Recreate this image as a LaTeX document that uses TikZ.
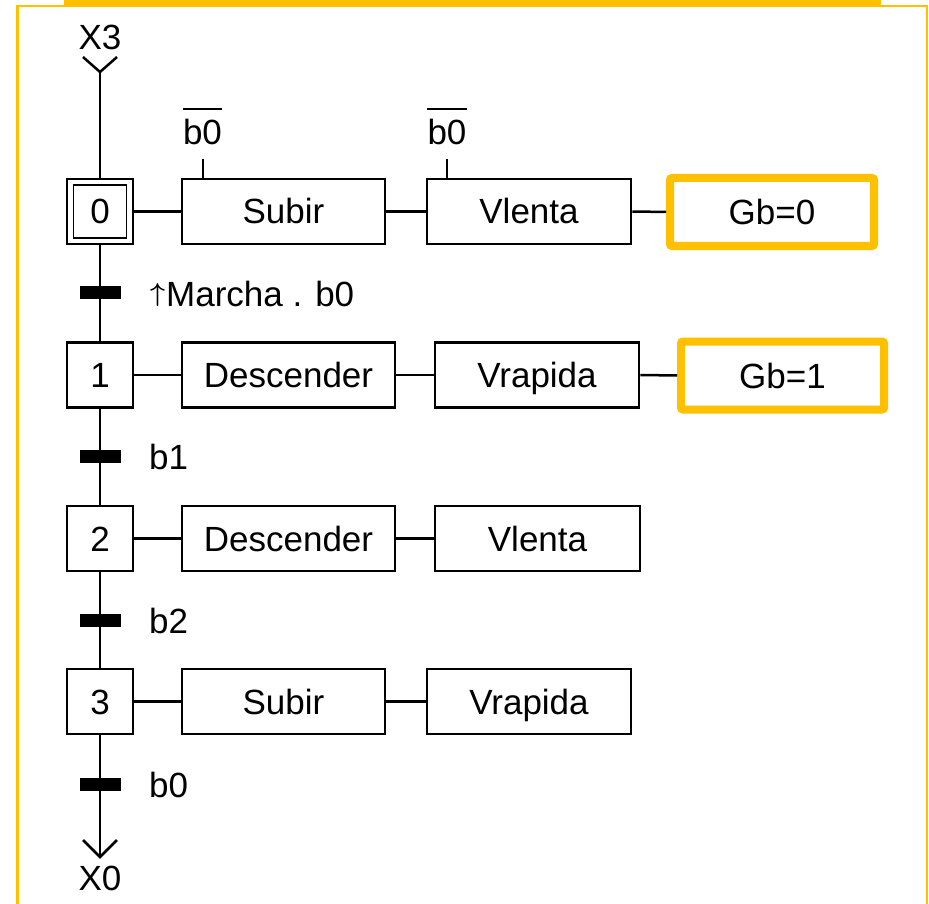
\documentclass[tikz,border=0pt]{standalone}
\usepackage{graphicx}
\usepackage{fontspec}
\setmainfont{Liberation Sans}
\definecolor{gold}{HTML}{FFC000}
% thin rising-edge arrow in front of a condition
\newcommand{\risingedge}{{\normalsize\boldmath\raisebox{5pt}{\scalebox{2.6}{$\uparrow$}}}\hspace{1pt}}
\begin{document}
\begin{tikzpicture}[x=1pt,y=-1pt,
  every node/.style={font=\fontsize{35}{42}\selectfont, inner sep=0pt, text height=25pt, text depth=0pt},
  wire/.style={line width=2.5pt, black},
  stepbox/.style={draw, line width=2.5pt, minimum width=66pt, minimum height=65pt},
  actbox/.style={draw, line width=2.5pt, minimum height=65pt},
  gbbox/.style={draw=gold, line width=8pt, rounded corners=2pt, minimum height=68pt},
  trbar/.style={fill=black, minimum width=41pt, minimum height=13pt, text height=0pt},
  cond/.style={anchor=west}]
\useasboundingbox (0,0) rectangle (929,904);

% frame
\fill[gold] (64,0) rectangle (881,7);
\draw[gold, line width=2.5pt] (64,6) -- (17.3,6) -- (17.3,904);
\draw[gold, line width=2.5pt] (881,6) -- (926.8,6) -- (926.8,904);

% steps
\node[stepbox] (s0) at (100,211.5) {};
\node[draw, line width=1.5pt, minimum size=53pt] (s0i) at (s0) {0};
\node[stepbox] (s1) at (100,375) {1};
\node[stepbox] (s2) at (100,538.5) {2};
\node[stepbox] (s3) at (100,701.5) {3};

% entry and exit
\node (x3) at (100,37) {X3};
\coordinate (x3tip) at (100,72);
\draw[wire] (x3tip) ++(-17,-15) -- (x3tip) -- ++(17,-15);
\draw[wire] (x3tip) -- (s0.north);

\node (x0) at (100,878) {X0};
\coordinate (x0tip) at (100,857);
\draw[wire] (s3.south) -- (x0tip);
\draw[wire] (x0tip) ++(-17,-17) -- (x0tip) -- ++(17,-17);

% vertical links
\draw[wire] (s0.south) -- (s1.north);
\draw[wire] (s1.south) -- (s2.north);
\draw[wire] (s2.south) -- (s3.north);

% transitions
\node[trbar] (t1) at (100.5,292.5) {};
\node[trbar] (t2) at (100.5,456) {};
\node[trbar] (t3) at (100.5,620) {};
\node[trbar] (t4) at (100.5,784) {};
\node[cond] (c1) at (150,294) {\risingedge Marcha . b0};
\node[cond] (c2) at (149,457) {b1};
\node[cond] (c3) at (149,621) {b2};
\node[cond] (c4) at (149,785) {b0};

% actions, step 0
\node[actbox, minimum width=203pt] (a01) at (283.5,211.5) {Subir};
\node[actbox, minimum width=204pt] (a02) at (529,211.5) {Vlenta};
\node[gbbox, minimum width=204pt] (a03) at (772,212) {Gb=0};
\draw[wire] (s0) -- (a01);
\draw[wire] (a01) -- (a02);
\draw[wire] (a02) -- (a03);
\node (n1) at (202.5,132) {b0};
\draw[line width=2pt] ([yshift=10pt]n1.north west) -- ([yshift=10pt]n1.north east);
\coordinate (k1) at (203,159);
\draw[wire] (k1) -- (k1 |- a01.north);
\node (n2) at (447,132) {b0};
\draw[line width=2pt] ([yshift=10pt]n2.north west) -- ([yshift=10pt]n2.north east);
\coordinate (k2) at (447,159);
\draw[wire] (k2) -- (k2 |- a02.north);

% actions, step 1
\node[actbox, minimum width=213pt] (a11) at (288.5,375) {Descender};
\node[actbox, minimum width=204pt] (a12) at (537,375) {Vrapida};
\node[gbbox, minimum width=203pt] (a13) at (782.5,375.5) {Gb=1};
\draw[wire] (s1) -- (a11);
\draw[wire] (a11) -- (a12);
\draw[wire] (a12) -- (a13);

% actions, step 2
\node[actbox, minimum width=213pt] (a21) at (288.5,538.5) {Descender};
\node[actbox, minimum width=205pt] (a22) at (537.5,538.5) {Vlenta};
\draw[wire] (s2) -- (a21);
\draw[wire] (a21) -- (a22);

% actions, step 3
\node[actbox, minimum width=203pt] (a31) at (283.5,701.5) {Subir};
\node[actbox, minimum width=204pt] (a32) at (529,701.5) {Vrapida};
\draw[wire] (s3) -- (a31);
\draw[wire] (a31) -- (a32);
\end{tikzpicture}
\end{document}
